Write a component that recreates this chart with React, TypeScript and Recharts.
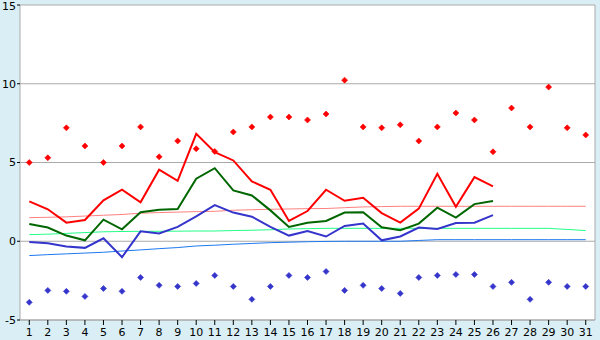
import React from 'react';
import { ComposedChart, Line, Scatter, XAxis, YAxis, CartesianGrid } from 'recharts';

// Day of month labels
const days = ['1', '2', '3', '4', '5', '6', '7', '8', '9', '10', '11', '12', '13', '14', '15', '16',
  '17', '18', '19', '20', '21', '22', '23', '24', '25', '26', '27', '28', '29', '30', '31'];

// Daily extremes (diamond markers)
const maxValues = [5.0, 5.3, 7.2, 6.05, 5.0, 6.05, 7.26, 5.36, 6.37, 5.87, 5.7, 6.94, 7.26, 7.89, 7.89, 7.7,
  8.08, 10.23, 7.26, 7.2, 7.39, 6.37, 7.26, 8.14, 7.7, 5.68, 8.46, 7.26, 9.79, 7.2, 6.75];
const minValues = [-3.88, -3.12, -3.18, -3.5, -3.0, -3.18, -2.3, -2.8, -2.87, -2.68, -2.17, -2.87, -3.69, -2.87,
  -2.17, -2.3, -1.92, -3.12, -2.8, -3.0, -3.31, -2.3, -2.17, -2.11, -2.11, -2.87, -2.61, -3.69, -2.61, -2.87, -2.87];

// Measured lines (only up to day 26)
const highLine = [2.53, 2.03, 1.18, 1.35, 2.6, 3.27, 2.47, 4.54, 3.84, 6.82, 5.65, 5.13, 3.8, 3.27, 1.29, 1.92,
  3.27, 2.57, 2.76, 1.79, 1.18, 2.07, 4.28, 2.19, 4.07, 3.48, null, null, null, null, null];
const meanLine = [1.1, 0.87, 0.36, 0.06, 1.37, 0.76, 1.84, 2.0, 2.04, 3.97, 4.64, 3.23, 2.91, 1.96, 0.91, 1.18,
  1.29, 1.82, 1.84, 0.89, 0.7, 1.12, 2.13, 1.5, 2.36, 2.55, null, null, null, null, null];
const lowLine = [-0.04, -0.13, -0.34, -0.42, 0.19, -1.01, 0.63, 0.49, 0.91, 1.58, 2.3, 1.82, 1.56, 0.91, 0.36, 0.65,
  0.3, 0.97, 1.12, 0.06, 0.3, 0.87, 0.78, 1.16, 1.18, 1.66, null, null, null, null, null];

// Normal (reference) lines
const highNormal = [1.5, 1.52, 1.55, 1.6, 1.65, 1.7, 1.78, 1.82, 1.85, 1.88, 1.9, 1.97, 2.0, 2.03, 2.05, 2.07,
  2.08, 2.13, 2.18, 2.2, 2.22, 2.22, 2.22, 2.22, 2.22, 2.22, 2.22, 2.22, 2.22, 2.22, 2.22];
const meanNormal = [0.42, 0.45, 0.5, 0.55, 0.6, 0.62, 0.63, 0.63, 0.64, 0.65, 0.65, 0.68, 0.7, 0.73, 0.78, 0.8,
  0.82, 0.82, 0.82, 0.82, 0.82, 0.82, 0.82, 0.82, 0.82, 0.82, 0.82, 0.82, 0.82, 0.75, 0.68];
const lowNormal = [-0.91, -0.85, -0.8, -0.75, -0.7, -0.62, -0.55, -0.47, -0.4, -0.3, -0.25, -0.19, -0.14, -0.09,
  -0.06, -0.03, -0.01, 0, 0, 0, 0, 0.05, 0.1, 0.1, 0.1, 0.1, 0.1, 0.1, 0.1, 0.1, 0.1];

const yTicks = [-5, 0, 5, 10, 15];

const data = days.map((d, i) => ({
  day: d,
  max: maxValues[i],
  min: minValues[i],
  high: highLine[i],
  mean: meanLine[i],
  low: lowLine[i],
  highN: highNormal[i],
  meanN: meanNormal[i],
  lowN: lowNormal[i],
}));

const grey = '#aaaaaa';
const font = { fontFamily: 'DejaVu Sans', fontSize: 11, fill: '#000' };

// small diamond marker
const diamond = (color: string) => (props: any) => {
  const { cx, cy } = props;
  if (cx == null || cy == null) return <g />;
  return (
    <path
      d={`M${cx},${cy - 3}L${cx + 3},${cy}L${cx},${cy + 3}L${cx - 3},${cy}Z`}
      fill={color}
      stroke={color}
      strokeWidth={0.6}
    />
  );
};

const App: React.FC = () => {
  return (
    <div style={{ position: 'absolute', left: 0, top: 0, width: 600, height: 340, background: '#d9eff5' }}>
      <ComposedChart width={600} height={340} data={data} margin={{ top: 5, right: 0, bottom: 0, left: 0 }}>
        <CartesianGrid vertical={false} stroke={grey} fill="#ffffff" />
        <XAxis
          dataKey="day"
          scale="band"
          interval={0}
          height={20}
          tickSize={5}
          tickMargin={3}
          tick={font}
          axisLine={{ stroke: grey }}
          tickLine={{ stroke: '#000' }}
        />
        <YAxis
          domain={[-5, 15]}
          ticks={yTicks}
          width={20}
          tickSize={3}
          tickMargin={1}
          tick={font}
          axisLine={{ stroke: grey }}
          tickLine={{ stroke: '#000' }}
          allowDataOverflow
        />
        <YAxis
          yAxisId="r"
          orientation="right"
          domain={[-5, 15]}
          width={5}
          tick={false}
          tickLine={false}
          axisLine={{ stroke: grey }}
        />
        <Line dataKey="highN" stroke="#ff8080" strokeWidth={1} dot={false} isAnimationActive={false} />
        <Line dataKey="meanN" stroke="#22ff88" strokeWidth={1} dot={false} isAnimationActive={false} />
        <Line dataKey="lowN" stroke="#1e78f0" strokeWidth={1} dot={false} isAnimationActive={false} />
        <Line dataKey="low" stroke="#3535cc" strokeWidth={2} dot={false} isAnimationActive={false} />
        <Line dataKey="mean" stroke="#006600" strokeWidth={2} dot={false} isAnimationActive={false} />
        <Line dataKey="high" stroke="#ff0000" strokeWidth={2} dot={false} isAnimationActive={false} />
        <Scatter dataKey="max" shape={diamond('#ff0000')} isAnimationActive={false} />
        <Scatter dataKey="min" shape={diamond('#3535cc')} isAnimationActive={false} />
      </ComposedChart>
    </div>
  );
};

export default App;
